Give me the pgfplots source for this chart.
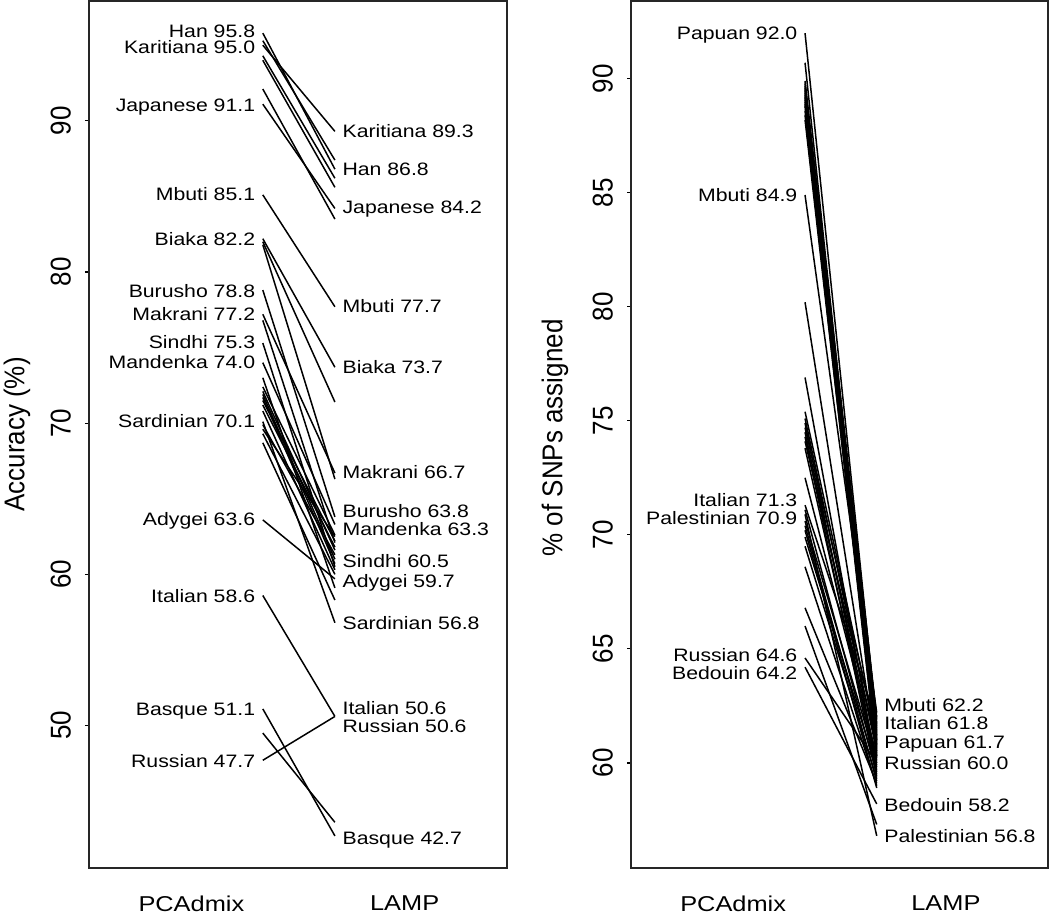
\documentclass[border=0pt]{standalone}
\usepackage{fontspec}
\setmainfont{Liberation Sans}
\newfontfamily\sfont[FakeStretch=1.18]{Liberation Sans}
\usepackage{graphicx}
\usepackage{pgfplots}
\pgfplotsset{compat=1.18}
\newcommand\lab[1]{{\sfont\fontsize{18}{18}\selectfont #1}}
\newcommand\tk[1]{\scalebox{1}[1.1]{\fontsize{26}{26}\selectfont #1}}
\newcommand\ylab[1]{\scalebox{1}[1.1]{\fontsize{26}{26}\selectfont #1}}
\tikzset{
  llab/.style={anchor=base east, inner sep=0pt, xshift=-7.5pt, yshift=-6.4pt},
  rlab/.style={anchor=base west, inner sep=0pt, xshift=7.5pt, yshift=-6.4pt},
}
\pgfplotsset{
  seg/.style={black, line width=1.5pt, mark=none},
  slope/.style={
    scale only axis, height=867pt, xmin=0.52, xmax=2.48,
    axis line style={line width=1.4pt, black!85},
    xtick={1,2}, xticklabels={PCAdmix,LAMP},
    xticklabel style={font=\sfont\fontsize{21.5}{22}\selectfont, inner sep=0pt, anchor=north},
    xticklabel shift=24pt,
    x tick style={draw=none},
    y tick style={line width=1.2pt, black},
    major tick length=4pt, tick align=outside, tick pos=left,
    yticklabel style={rotate=90, anchor=south, inner sep=0pt},
    yticklabel shift=14pt,
    clip=false,
  }
}
\begin{document}
\begin{tikzpicture}
\useasboundingbox (0,0) rectangle (1050pt,916pt);
\begin{axis}[slope, at={(89pt,48pt)}, anchor=south west, width=418pt,
  ymin=40.576, ymax=97.924, ytick={50,60,70,80,90},
  yticklabels={\tk{50},\tk{60},\tk{70},\tk{80},\tk{90}}]
\addplot[seg] coordinates {(1.335,95.8) (1.673,86.8)};
\addplot[seg] coordinates {(1.335,95.0) (1.673,89.3)};
\addplot[seg] coordinates {(1.335,95.3) (1.673,87.4)};
\addplot[seg] coordinates {(1.335,94.3) (1.673,86.2)};
\addplot[seg] coordinates {(1.335,94.0) (1.673,85.6)};
\addplot[seg] coordinates {(1.335,92.1) (1.673,83.5)};
\addplot[seg] coordinates {(1.335,91.1) (1.673,84.2)};
\addplot[seg] coordinates {(1.335,85.1) (1.673,77.7)};
\addplot[seg] coordinates {(1.335,82.2) (1.673,73.7)};
\addplot[seg] coordinates {(1.335,82.0) (1.673,71.4)};
\addplot[seg] coordinates {(1.335,81.8) (1.673,66.3)};
\addplot[seg] coordinates {(1.335,78.8) (1.673,63.8)};
\addplot[seg] coordinates {(1.335,77.2) (1.673,66.7)};
\addplot[seg] coordinates {(1.335,76.8) (1.673,62.1)};
\addplot[seg] coordinates {(1.335,75.3) (1.673,60.5)};
\addplot[seg] coordinates {(1.335,74.0) (1.673,63.3)};
\addplot[seg] coordinates {(1.335,73.0) (1.673,59.1)};
\addplot[seg] coordinates {(1.335,72.4) (1.673,62.6)};
\addplot[seg] coordinates {(1.335,72.1) (1.673,61.6)};
\addplot[seg] coordinates {(1.335,71.9) (1.673,61.0)};
\addplot[seg] coordinates {(1.335,71.7) (1.673,60.7)};
\addplot[seg] coordinates {(1.335,71.5) (1.673,62.2)};
\addplot[seg] coordinates {(1.335,71.2) (1.673,61.8)};
\addplot[seg] coordinates {(1.335,70.8) (1.673,60.3)};
\addplot[seg] coordinates {(1.335,70.1) (1.673,56.8)};
\addplot[seg] coordinates {(1.335,69.9) (1.673,61.3)};
\addplot[seg] coordinates {(1.335,69.6) (1.673,62.5)};
\addplot[seg] coordinates {(1.335,69.3) (1.673,60.0)};
\addplot[seg] coordinates {(1.335,68.7) (1.673,58.3)};
\addplot[seg] coordinates {(1.335,63.6) (1.673,59.7)};
\addplot[seg] coordinates {(1.335,58.6) (1.673,50.6)};
\addplot[seg] coordinates {(1.335,51.1) (1.673,42.7)};
\addplot[seg] coordinates {(1.335,49.5) (1.673,43.6)};
\addplot[seg] coordinates {(1.335,47.7) (1.673,50.6)};
% left-side labels
\node[llab] at (axis cs:1.335,95.96) {\lab{Han 95.8}};
\node[llab] at (axis cs:1.335,94.86) {\lab{Karitiana 95.0}};
\node[llab] at (axis cs:1.335,91.04) {\lab{Japanese 91.1}};
\node[llab] at (axis cs:1.335,85.15) {\lab{Mbuti 85.1}};
\node[llab] at (axis cs:1.335,82.17) {\lab{Biaka 82.2}};
\node[llab] at (axis cs:1.335,78.75) {\lab{Burusho 78.8}};
\node[llab] at (axis cs:1.335,77.21) {\lab{Makrani 77.2}};
\node[llab] at (axis cs:1.335,75.33) {\lab{Sindhi 75.3}};
\node[llab] at (axis cs:1.335,74.01) {\lab{Mandenka 74.0}};
\node[llab] at (axis cs:1.335,70.15) {\lab{Sardinian 70.1}};
\node[llab] at (axis cs:1.335,63.64) {\lab{Adygei 63.6}};
\node[llab] at (axis cs:1.335,58.56) {\lab{Italian 58.6}};
\node[llab] at (axis cs:1.335,51.07) {\lab{Basque 51.1}};
\node[llab] at (axis cs:1.335,47.64) {\lab{Russian 47.7}};
% right-side labels
\node[rlab] at (axis cs:1.673,89.34) {\lab{Karitiana 89.3}};
\node[rlab] at (axis cs:1.673,86.80) {\lab{Han 86.8}};
\node[rlab] at (axis cs:1.673,84.27) {\lab{Japanese 84.2}};
\node[rlab] at (axis cs:1.673,77.76) {\lab{Mbuti 77.7}};
\node[rlab] at (axis cs:1.673,73.68) {\lab{Biaka 73.7}};
\node[rlab] at (axis cs:1.673,66.73) {\lab{Makrani 66.7}};
\node[rlab] at (axis cs:1.673,64.19) {\lab{Burusho 63.8}};
\node[rlab] at (axis cs:1.673,62.98) {\lab{Mandenka 63.3}};
\node[rlab] at (axis cs:1.673,60.88) {\lab{Sindhi 60.5}};
\node[rlab] at (axis cs:1.673,59.56) {\lab{Adygei 59.7}};
\node[rlab] at (axis cs:1.673,56.80) {\lab{Sardinian 56.8}};
\node[rlab] at (axis cs:1.673,51.18) {\lab{Italian 50.6}};
\node[rlab] at (axis cs:1.673,49.96) {\lab{Russian 50.6}};
\node[rlab] at (axis cs:1.673,42.57) {\lab{Basque 42.7}};
\end{axis}
\begin{axis}[slope, at={(631pt,48pt)}, anchor=south west, width=417pt,
  ymin=55.392, ymax=93.408, ytick={60,65,70,75,80,85,90},
  yticklabels={\tk{60},\tk{65},\tk{70},\tk{75},\tk{80},\tk{85},\tk{90}}]
\addplot[seg] coordinates {(1.338,92.0) (1.675,61.7)};
\addplot[seg] coordinates {(1.338,90.7) (1.675,61.0)};
\addplot[seg] coordinates {(1.338,89.9) (1.675,62.0)};
\addplot[seg] coordinates {(1.338,89.8) (1.675,61.5)};
\addplot[seg] coordinates {(1.338,89.7) (1.675,60.8)};
\addplot[seg] coordinates {(1.338,89.6) (1.675,61.9)};
\addplot[seg] coordinates {(1.338,89.5) (1.675,60.5)};
\addplot[seg] coordinates {(1.338,89.4) (1.675,61.2)};
\addplot[seg] coordinates {(1.338,89.3) (1.675,60.9)};
\addplot[seg] coordinates {(1.338,89.2) (1.675,61.6)};
\addplot[seg] coordinates {(1.338,89.1) (1.675,60.3)};
\addplot[seg] coordinates {(1.338,89.0) (1.675,61.4)};
\addplot[seg] coordinates {(1.338,88.9) (1.675,60.7)};
\addplot[seg] coordinates {(1.338,88.8) (1.675,61.1)};
\addplot[seg] coordinates {(1.338,88.6) (1.675,60.2)};
\addplot[seg] coordinates {(1.338,88.4) (1.675,61.3)};
\addplot[seg] coordinates {(1.338,88.2) (1.675,60.6)};
\addplot[seg] coordinates {(1.338,84.9) (1.675,62.2)};
\addplot[seg] coordinates {(1.338,80.2) (1.675,60.4)};
\addplot[seg] coordinates {(1.338,76.9) (1.675,59.8)};
\addplot[seg] coordinates {(1.338,75.4) (1.675,61.0)};
\addplot[seg] coordinates {(1.338,75.1) (1.675,60.5)};
\addplot[seg] coordinates {(1.338,74.9) (1.675,59.6)};
\addplot[seg] coordinates {(1.338,74.7) (1.675,61.2)};
\addplot[seg] coordinates {(1.338,74.5) (1.675,60.1)};
\addplot[seg] coordinates {(1.338,74.3) (1.675,59.4)};
\addplot[seg] coordinates {(1.338,74.1) (1.675,60.8)};
\addplot[seg] coordinates {(1.338,73.8) (1.675,59.9)};
\addplot[seg] coordinates {(1.338,72.5) (1.675,60.3)};
\addplot[seg] coordinates {(1.338,71.3) (1.675,61.8)};
\addplot[seg] coordinates {(1.338,71.1) (1.675,59.5)};
\addplot[seg] coordinates {(1.338,70.9) (1.675,56.8)};
\addplot[seg] coordinates {(1.338,70.6) (1.675,60.0)};
\addplot[seg] coordinates {(1.338,70.4) (1.675,59.2)};
\addplot[seg] coordinates {(1.338,70.2) (1.675,58.9)};
\addplot[seg] coordinates {(1.338,69.9) (1.675,59.7)};
\addplot[seg] coordinates {(1.338,69.5) (1.675,59.3)};
\addplot[seg] coordinates {(1.338,68.6) (1.675,59.0)};
\addplot[seg] coordinates {(1.338,66.8) (1.675,59.1)};
\addplot[seg] coordinates {(1.338,66.0) (1.675,57.3)};
\addplot[seg] coordinates {(1.338,64.6) (1.675,60.0)};
\addplot[seg] coordinates {(1.338,64.2) (1.675,58.2)};
\node[llab] at (axis cs:1.338,92.00) {\lab{Papuan 92.0}};
\node[llab] at (axis cs:1.338,84.91) {\lab{Mbuti 84.9}};
\node[llab] at (axis cs:1.338,71.54) {\lab{Italian 71.3}};
\node[llab] at (axis cs:1.338,70.73) {\lab{Palestinian 70.9}};
\node[llab] at (axis cs:1.338,64.74) {\lab{Russian 64.6}};
\node[llab] at (axis cs:1.338,63.93) {\lab{Bedouin 64.2}};
\node[rlab] at (axis cs:1.675,62.54) {\lab{Mbuti 62.2}};
\node[rlab] at (axis cs:1.675,61.74) {\lab{Italian 61.8}};
\node[rlab] at (axis cs:1.675,60.91) {\lab{Papuan 61.7}};
\node[rlab] at (axis cs:1.675,59.99) {\lab{Russian 60.0}};
\node[rlab] at (axis cs:1.675,58.16) {\lab{Bedouin 58.2}};
\node[rlab] at (axis cs:1.675,56.77) {\lab{Palestinian 56.8}};
\end{axis}
\node[rotate=90] at (17pt,481.5pt) {\ylab{Accuracy (\%)}};
\node[rotate=90] at (555pt,478pt) {\ylab{\% of SNPs assigned}};
\end{tikzpicture}
\end{document}
